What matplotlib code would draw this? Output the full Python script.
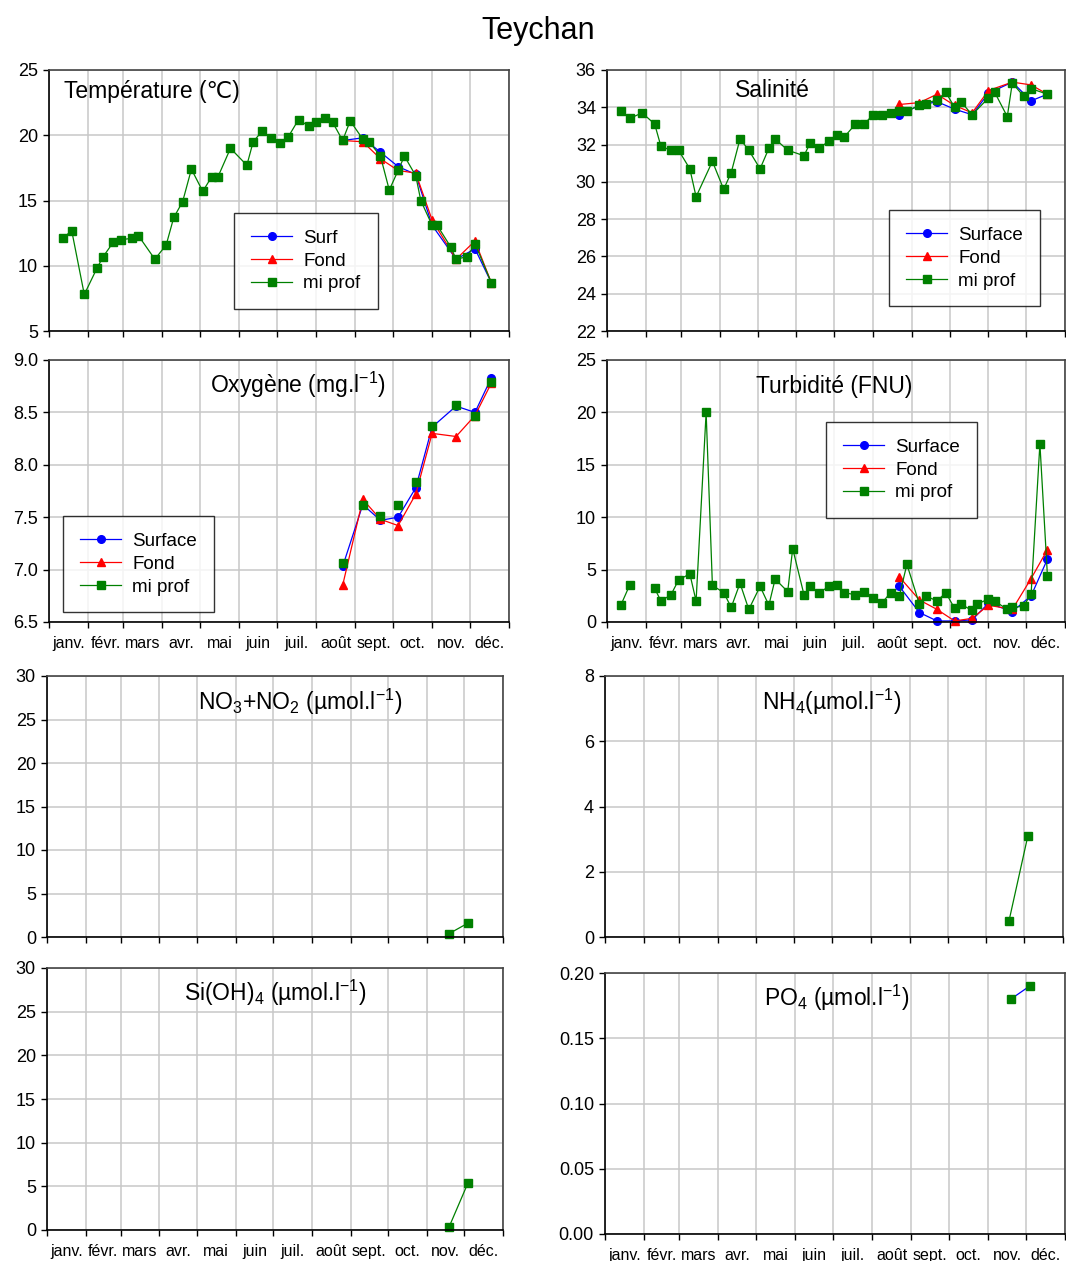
import matplotlib
matplotlib.use("Agg")
import matplotlib.pyplot as plt
import numpy as np
from matplotlib.lines import Line2D

plt.rcParams['font.family'] = ['Liberation Sans', 'DejaVu Sans']
plt.rcParams['mathtext.fontset'] = 'custom'
plt.rcParams['mathtext.rm'] = 'Liberation Sans'
plt.rcParams['mathtext.default'] = 'regular'

# ---------------- données (jour de l'année) ----------------
mois = ["janv.", "févr.", "mars", "avr.", "mai", "juin", "juil.",
        "août", "sept.", "oct.", "nov.", "déc."]
debut_mois = [0, 31, 59, 90, 120, 151, 181, 212, 243, 273, 304, 334, 365]

# dates communes surface / fond
jours_sf = [233, 249, 263, 277, 291, 304, 323, 338, 351]

# température
temp_jours = [11, 18, 28, 38, 43, 51, 57, 66, 71, 84, 93, 99, 106, 113, 122,
              129, 134, 144, 157, 162, 169, 176, 183, 190, 198, 206, 212, 219,
              225, 233, 239, 249, 254, 263, 270, 277, 282, 291, 295, 304, 308,
              319, 323, 332, 338, 351]
temp_mi = [12.1, 12.7, 7.8, 9.8, 10.7, 11.8, 12.0, 12.1, 12.3, 10.5, 11.6,
           13.7, 14.9, 17.4, 15.7, 16.8, 16.8, 19.0, 17.7, 19.5, 20.3, 19.8,
           19.4, 19.9, 21.2, 20.7, 21.0, 21.3, 21.0, 19.6, 21.1, 19.7, 19.5,
           18.4, 15.8, 17.3, 18.4, 16.9, 15.0, 13.1, 13.1, 11.4, 10.5, 10.7,
           11.7, 8.7]
temp_surf = [19.6, 19.8, 18.7, 17.6, 17.0, 13.1, 10.5, 11.3, 8.7]
temp_fond = [19.6, 19.5, 18.2, 17.3, 17.1, 13.5, 10.5, 11.9, 8.7]

# salinité
sal_jours = [11, 18, 28, 38, 43, 51, 57, 66, 71, 84, 93, 99, 106, 113, 122,
             129, 134, 144, 157, 162, 169, 177, 183, 189, 198, 205, 212, 219,
             226, 233, 239, 249, 254, 263, 270, 277, 282, 291, 304, 309, 319,
             323, 332, 338, 351]
sal_mi = [33.8, 33.4, 33.7, 33.1, 31.9, 31.7, 31.7, 30.7, 29.2, 31.1, 29.6,
          30.5, 32.3, 31.7, 30.7, 31.8, 32.3, 31.7, 31.4, 32.1, 31.8, 32.2,
          32.5, 32.4, 33.1, 33.1, 33.6, 33.6, 33.7, 33.8, 33.8, 34.1, 34.2,
          34.4, 34.8, 34.0, 34.3, 33.6, 34.5, 34.8, 33.5, 35.3, 34.6, 35.0,
          34.7]
sal_surf = [33.6, 34.1, 34.3, 33.9, 33.6, 34.75, 35.35, 34.35, 34.7]
sal_fond = [34.15, 34.25, 34.7, 34.1, 33.7, 34.9, 35.35, 35.2, 34.7]

# oxygène
oxy_surf = [7.03, 7.62, 7.47, 7.50, 7.78, 8.36, 8.56, 8.50, 8.83]
oxy_fond = [6.85, 7.67, 7.48, 7.42, 7.72, 8.30, 8.27, 8.47, 8.78]
oxy_mi = [7.06, 7.62, 7.51, 7.62, 7.84, 8.37, 8.57, 8.47, 8.79]

# turbidité
turb_jours = [11, 18, 28, 38, 43, 51, 57, 66, 71, 79, 84, 93, 99, 106, 113,
              122, 129, 134, 144, 148, 157, 162, 169, 177, 183, 189, 198, 205,
              212, 219, 226, 233, 239, 249, 254, 263, 270, 277, 282, 291, 295,
              304, 309, 319, 323, 332, 338, 345, 351]
turb_mi = [1.6, 3.5, np.nan, 3.2, 2.0, 2.6, 4.0, 4.6, 2.0, 20.0, 3.5, 2.8,
           1.4, 3.7, 1.2, 3.4, 1.6, 4.1, 2.9, 7.0, 2.6, 3.4, 2.8, 3.4, 3.5,
           2.8, 2.6, 2.9, 2.3, 1.8, 2.8, 2.5, 5.5, 1.7, 2.5, 2.0, 2.8, 1.3,
           1.7, 1.1, 1.7, 2.2, 2.0, 1.2, 1.4, 1.5, 2.7, 17.0, 4.4]
turb_surf = [3.4, 0.9, 0.1, 0.1, 0.2, 1.8, 1.0, 2.5, 6.0]
turb_fond = [4.3, 2.1, 1.2, 0.1, 0.35, 1.6, 1.2, 4.15, 6.9]

# sels nutritifs
nut_jours = [322, 337]
no3_mi = [0.4, 1.6]
nh4_mi = [0.5, 3.1]
si_mi = [0.4, 5.4]
po4_surf = [0.18, 0.19]
po4_mi = [0.18, 0.19]

# ---------------- mise en page ----------------
W, H = 1066, 1261
fig = plt.figure(figsize=(W / 100, H / 100), dpi=100)


def rect(l, r, t, b):
    return [l / W, 1 - b / H, (r - l) / W, (b - t) / H]


BLEU, ROUGE, VERT = '#0000ff', '#ff0000', '#008000'
MS = 5.5


def prepare(ax, ylim, yticks, fmt, avec_mois):
    ax.set_xlim(0, 365)
    ax.set_ylim(*ylim)
    ax.set_xticks(debut_mois)
    ax.set_xticklabels([])
    ax.set_yticks(yticks)
    ax.set_yticklabels([fmt.format(v) for v in yticks])
    ax.grid(True, color='#c8c8c8', linewidth=1.1)
    ax.set_axisbelow(True)
    ax.tick_params(axis='both', which='major', direction='out', length=4,
                   width=1, color='black', labelsize=13, pad=4)
    if avec_mois:
        milieux = [(debut_mois[i] + debut_mois[i + 1]) / 2 for i in range(12)]
        ax.set_xticks(milieux, minor=True)
        ax.set_xticklabels(mois, minor=True, fontsize=11.5)
        ax.tick_params(axis='x', which='minor', length=0, pad=10)
    for s in ['left', 'bottom']:
        ax.spines[s].set_color('black')
        ax.spines[s].set_linewidth(1.2)
    for s in ['top', 'right']:
        ax.spines[s].set_color('#444444')
        ax.spines[s].set_linewidth(1.2)


def tracer(ax, x, y, couleur, marqueur, ligne=True):
    ax.plot(x, y, color=couleur, marker=marqueur, markersize=MS,
            linewidth=0.9 if ligne else 0, linestyle='-' if ligne else 'none',
            markeredgecolor=couleur, clip_on=False)


def legende(ax, noms, x, y):
    poignees = [Line2D([], [], color=BLEU, marker='o', markersize=MS, lw=0.9),
                Line2D([], [], color=ROUGE, marker='^', markersize=MS, lw=0.9),
                Line2D([], [], color=VERT, marker='s', markersize=MS, lw=0.9)]
    leg = ax.legend(poignees, noms, loc='upper left',
                    bbox_to_anchor=(x / W, 1 - y / H),
                    bbox_transform=fig.transFigure, fontsize=13.5,
                    frameon=True, fancybox=False, borderaxespad=0,
                    borderpad=0.9, labelspacing=0.3, handlelength=2.2,
                    handletextpad=0.6)
    leg.get_frame().set_edgecolor('black')
    leg.get_frame().set_linewidth(1.0)


fig.text(538 / W, 1 - 31 / H, "Teychan", ha='center', va='center',
         fontsize=22)

# température
ax = fig.add_axes(rect(49, 509, 70, 331))
prepare(ax, (5, 25), [5, 10, 15, 20, 25], "{:g}", False)
tracer(ax, jours_sf, temp_surf, BLEU, 'o')
tracer(ax, jours_sf, temp_fond, ROUGE, '^')
tracer(ax, temp_jours, temp_mi, VERT, 's')
ax.text(0.033, 0.917, "Température (℃)", transform=ax.transAxes,
        ha='left', va='center', fontsize=16.5)
legende(ax, ["Surf", "Fond", "mi prof"], 234, 213)

# salinité
ax = fig.add_axes(rect(607, 1065, 70, 331))
prepare(ax, (22, 36), list(range(22, 37, 2)), "{:g}", False)
tracer(ax, jours_sf, sal_surf, BLEU, 'o')
tracer(ax, jours_sf, sal_fond, ROUGE, '^')
tracer(ax, sal_jours, sal_mi, VERT, 's')
ax.text(0.362, 0.923, "Salinité", transform=ax.transAxes,
        ha='center', va='center', fontsize=16.5)
legende(ax, ["Surface", "Fond", "mi prof"], 889, 210)

# oxygène
ax = fig.add_axes(rect(49, 509, 360, 622))
prepare(ax, (6.5, 9.0), [6.5, 7.0, 7.5, 8.0, 8.5, 9.0], "{:.1f}", True)
tracer(ax, jours_sf, oxy_surf, BLEU, 'o')
tracer(ax, jours_sf, oxy_fond, ROUGE, '^')
tracer(ax, jours_sf, oxy_mi, VERT, 's', ligne=False)
ax.text(0.541, 0.905, r"Oxygène (mg.l$^{-1}$)", transform=ax.transAxes,
        ha='center', va='center', fontsize=16.5)
legende(ax, ["Surface", "Fond", "mi prof"], 63, 516)

# turbidité
ax = fig.add_axes(rect(607, 1065, 360, 622))
prepare(ax, (0, 25), [0, 5, 10, 15, 20, 25], "{:g}", True)
tracer(ax, jours_sf, turb_surf, BLEU, 'o')
tracer(ax, jours_sf, turb_fond, ROUGE, '^')
tracer(ax, turb_jours, turb_mi, VERT, 's')
ax.text(0.497, 0.897, "Turbidité (FNU)", transform=ax.transAxes,
        ha='center', va='center', fontsize=16.5)
legende(ax, ["Surface", "Fond", "mi prof"], 826, 422)

# nitrates + nitrites
ax = fig.add_axes(rect(47, 503, 676, 937))
prepare(ax, (0, 30), [0, 5, 10, 15, 20, 25, 30], "{:g}", False)
tracer(ax, nut_jours, no3_mi, VERT, 's')
ax.text(0.555, 0.90, r"NO$_3$+NO$_2$ (µmol.l$^{-1}$)", transform=ax.transAxes,
        ha='center', va='center', fontsize=16.5)

# ammonium
ax = fig.add_axes(rect(605, 1063, 676, 937))
prepare(ax, (0, 8), [0, 2, 4, 6, 8], "{:g}", False)
tracer(ax, nut_jours, nh4_mi, VERT, 's')
ax.text(0.494, 0.90, r"NH$_4$(µmol.l$^{-1}$)", transform=ax.transAxes,
        ha='center', va='center', fontsize=16.5)

# silicates
ax = fig.add_axes(rect(47, 503, 968, 1230))
prepare(ax, (0, 30), [0, 5, 10, 15, 20, 25, 30], "{:g}", True)
tracer(ax, nut_jours, si_mi, VERT, 's')
ax.text(0.50, 0.906, r"Si(OH)$_4$ (µmol.l$^{-1}$)", transform=ax.transAxes,
        ha='center', va='center', fontsize=16.5)

# phosphates : ligne de surface, marqueurs mi prof par-dessus
ax = fig.add_axes(rect(605, 1065, 973, 1234))
prepare(ax, (0, 0.2), [0, 0.05, 0.10, 0.15, 0.20], "{:.2f}", True)
ax.plot(nut_jours, po4_surf, color=BLEU, linewidth=0.9)
tracer(ax, nut_jours, po4_mi, VERT, 's', ligne=False)
ax.text(0.503, 0.905, r"PO$_4$ (µmol.l$^{-1}$)", transform=ax.transAxes,
        ha='center', va='center', fontsize=16.5)

fig.savefig("out.png", dpi=100)
